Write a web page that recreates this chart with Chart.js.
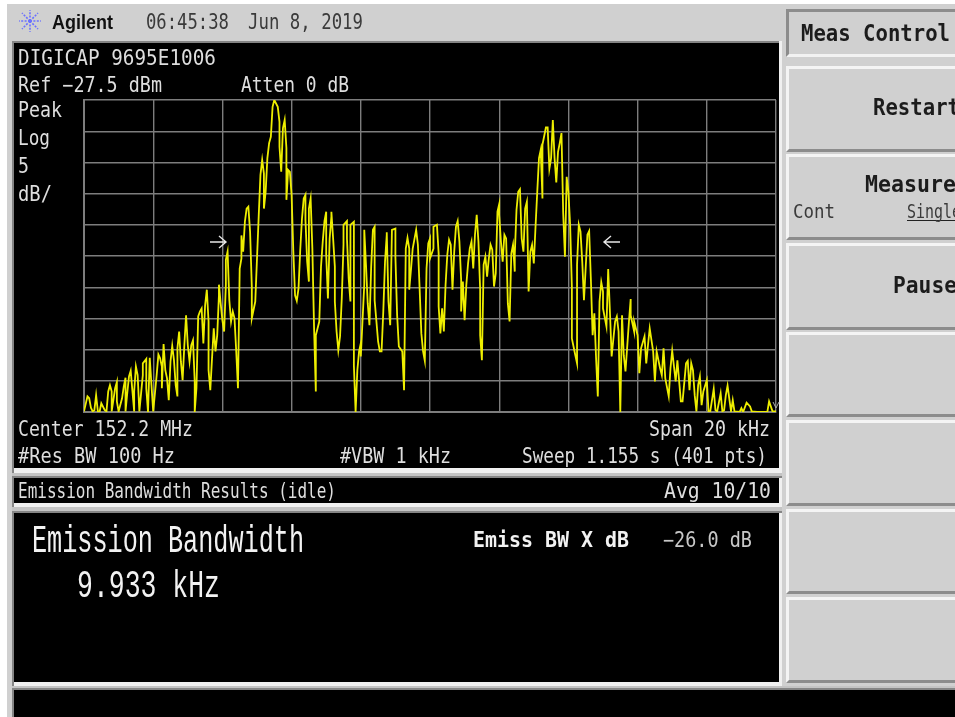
<!DOCTYPE html>
<html>
<head>
<meta charset="utf-8">
<title>Emission Bandwidth</title>
<script src="https://cdn.jsdelivr.net/npm/chart.js@4/dist/chart.umd.min.js"></script>
<style>
html,body{margin:0;padding:0;background:#d0d0d0;overflow:hidden}
#page{position:relative;width:955px;height:717px;overflow:hidden;background:#d0d0d0}
.b{position:absolute}
.k{position:absolute;left:786px;width:169px;box-sizing:border-box;background:#d0d0d0;border-top:3px solid #f4f4f4;border-left:3px solid #f4f4f4;border-bottom:3px solid #8c8c8c}
#chart,#labels{position:absolute;left:0;top:0}
</style>
</head>
<body>
<div id="page">
<div class="b" style="left:0;top:0;width:955px;height:4px;background:#fff"></div>
<div class="b" style="left:0;top:0;width:7px;height:717px;background:#fff"></div>
<!-- panel frames -->
<div class="b" style="left:12px;top:41px;width:770px;height:645px;background:#f0f0f0"></div>
<div class="b" style="left:12px;top:41px;width:767px;height:2px;background:#858585"></div>
<div class="b" style="left:12px;top:41px;width:2px;height:676px;background:#858585"></div>
<div class="b" style="left:14px;top:43px;width:765px;height:425px;background:#000"></div>
<div class="b" style="left:12px;top:473px;width:770px;height:3px;background:#c4c4c4"></div>
<div class="b" style="left:12px;top:476px;width:770px;height:2px;background:#858585"></div>
<div class="b" style="left:14px;top:478px;width:765px;height:25px;background:#000"></div>
<div class="b" style="left:12px;top:507px;width:770px;height:4px;background:#c4c4c4"></div>
<div class="b" style="left:12px;top:511px;width:770px;height:2px;background:#858585"></div>
<div class="b" style="left:14px;top:513px;width:765px;height:169px;background:#000"></div>
<div class="b" style="left:12px;top:686px;width:943px;height:2px;background:#c4c4c4"></div>
<div class="b" style="left:12px;top:688px;width:943px;height:2px;background:#858585"></div>
<div class="b" style="left:14px;top:690px;width:941px;height:27px;background:#000"></div>
<!-- soft keys -->
<div class="b" style="left:786px;top:9px;width:169px;height:48px;box-sizing:border-box;background:#d0d0d0;border-top:3px solid #8c8c8c;border-left:3px solid #8c8c8c;border-bottom:3px solid #f2f2f2"></div>
<div class="k" style="top:66px;height:86px"></div>
<div class="k" style="top:154px;height:86px"></div>
<div class="k" style="top:243px;height:87px"></div>
<div class="k" style="top:332px;height:85px"></div>
<div class="k" style="top:420px;height:86px"></div>
<div class="k" style="top:509px;height:85px"></div>
<div class="k" style="top:597px;height:86px"></div>
<canvas id="chart" width="955" height="717"></canvas>
<svg id="labels" width="955" height="717" xmlns="http://www.w3.org/2000/svg">
  <g stroke="#6a70ff" stroke-width="1.6" fill="none" stroke-dasharray="2 1.4">
    <path d="M30 21V10M30 21V32M30 21H19M30 21H41M30 21L22 13M30 21L38 13M30 21L22 29M30 21L38 29"/>
  </g>
  <path d="M907 220.5H955" stroke="#222" stroke-width="1.2"/>
  <path d="M773 402L776 408L779 402" stroke="#aaa" stroke-width="1" fill="none"/>
  <path d="M210 242H226M219 236L226 242L219 248" stroke="#e6e6e6" stroke-width="1.4" fill="none"/>
  <path d="M604 242H620M611 236L604 242L611 248" stroke="#e6e6e6" stroke-width="1.4" fill="none"/>
</svg>
</div>
<script>
// Trace: sweep point (0..400 of 401 pts) and level in dBm
const sweepPoints = [
0,2,3,4,5,6,7,8,9,10,12,13,14,15,16,16,18,19,19,20,22,23,24,24,25,26,27,28,29,29,30,31,32,34,34,36,36,37,38,39,40,42,43,44,45,45,46,47,48,49,
50,51,52,53,54,54,55,56,57,58,59,60,61,62,63,64,64,65,66,67,68,69,70,71,72,72,73,74,75,76,77,78,78,79,80,81,82,82,83,84,85,86,87,88,89,90,91,91,92,93,
94,95,96,97,97,99,100,101,102,103,104,104,105,106,107,108,109,110,112,113,113,114,115,116,117,117,118,119,120,121,122,123,124,125,126,127,128,128,129,130,130,131,132,133,134,134,136,
137,138,139,140,140,141,142,143,143,144,145,145,146,147,148,149,150,150,152,152,153,154,154,156,156,157,158,159,160,160,162,162,163,164,165,166,167,168,168,170,171,172,173,174,175,175,176,177,178,180,
180,181,182,184,185,186,187,188,188,189,190,192,193,194,195,196,197,198,199,200,200,202,202,204,205,205,206,207,208,209,210,211,212,213,214,215,216,217,218,218,219,220,221,222,223,224,225,226,227,228,
229,229,230,231,232,233,234,235,236,237,238,239,240,240,241,242,243,244,245,246,247,248,249,249,250,251,252,253,254,255,256,257,258,259,260,261,262,263,
264,265,265,267,268,269,270,271,272,273,274,275,276,277,278,279,280,281,282,282,284,285,285,286,287,288,289,291,292,293,294,295,296,297,298,299,300,300,302,303,304,305,307,308,309,310,
311,312,313,315,316,316,318,318,320,321,322,324,325,326,327,329,330,331,333,334,335,336,338,339,340,342,343,345,346,348,349,350,351,352,353,354,355,356,357,358,360,361,362,364,365,366,368,369,370,371,372,374,375,376,379,380,381,383,385,386,389,395,396,398,400
];
const traceLevels = [
-77.4,-75.0,-75.3,-76.8,-77.4,-77.2,-74.8,-77.4,-77.5,-76.1,-77.2,-77.4,-74.2,-73.2,-74.2,-77.4,-73.7,-72.7,-75.8,-77.4,-75.3,-73.4,-72.0,-77.4,-74.5,-71.8,-70.9,-74.2,-77.4,-74.2,-70.2,-71.6,-77.4,-71.6,-69.7,-69.0,-73.7,-77.5,-68.8,-73.2,-77.4,-71.6,-68.3,-68.9,-70.2,-73.7,-66.6,-70.8,-72.1,-75.6,
-69.4,-66.9,-69.2,-73.2,-75.0,-67.3,-64.6,-69.4,-72.4,-66.8,-62.0,-66.8,-69.4,-66.8,-66.0,-72.6,-77.5,-73.7,-62.2,-61.4,-60.9,-66.5,-60.4,-57.9,-63.0,-70.8,-74.0,-68.9,-64.1,-67.8,-65.2,-58.8,-57.1,-60.1,-62.8,-64.6,-57.1,-53.1,-51.8,-59.6,-63.0,-61.4,-62.5,-67.8,-73.7,-54.5,-52.9,-49.2,-51.8,-47.0,
-44.9,-44.6,-48.6,-57.4,-62.5,-59.8,-52.9,-46.0,-39.5,-37.1,-39.3,-44.9,-42.2,-36.8,-34.4,-33.4,-28.6,-27.5,-28.6,-31.0,-35.0,-39.0,-32.0,-30.7,-35.2,-43.5,-38.7,-39.0,-42.7,-51.8,-58.8,-59.7,-57.7,-51.5,-46.5,-43.3,-42.7,-46.7,-53.4,-56.6,-44.9,-43.3,-51.3,-64.1,-74.2,-65.2,-63.0,
-54.2,-50.2,-46.9,-45.4,-52.3,-59.3,-49.7,-46.2,-45.4,-49.7,-54.2,-59.8,-64.6,-67.6,-65.4,-59.3,-50.7,-47.5,-46.9,-49.7,-56.1,-59.8,-47.5,-47.0,-70.0,-77.5,-70.8,-67.8,-66.5,-68.6,-57.1,-48.3,-53.9,-60.1,-63.6,-54.2,-48.3,-47.8,-59.6,-66.2,-67.8,-67.8,-61.4,-53.4,-49.1,-48.7,-59.8,-63.6,-48.3,-48.1,
-52.6,-62.0,-67.0,-67.8,-74.0,-51.3,-49.6,-51.3,-57.9,-54.7,-51.3,-48.3,-50.7,-57.7,-64.9,-67.8,-69.3,-54.5,-50.5,-49.7,-52.9,-51.3,-47.8,-47.5,-52.1,-60.6,-64.9,-60.9,-64.6,-57.1,-52.3,-49.9,-50.7,-57.9,-51.8,-47.8,-46.9,-50.2,-56.3,-61.4,-56.6,-62.8,-57.1,-53.7,-51.3,-50.2,-54.5,-49.1,-45.9,-50.2,
-57.9,-65.2,-69.2,-53.9,-52.6,-55.8,-52.9,-50.7,-51.5,-57.4,-55.3,-45.4,-44.2,-45.9,-50.2,-53.4,-49.1,-49.7,-60.1,-63.0,-52.1,-50.7,-55.0,-52.3,-45.1,-42.2,-41.8,-49.7,-51.8,-44.9,-43.8,-58.2,-51.8,-50.7,-53.7,-47.8,-42.2,-36.8,
-35.5,-43.3,-34.7,-31.9,-31.9,-38.5,-36.8,-30.7,-36.8,-40.7,-35.8,-34.4,-32.8,-45.7,-52.6,-39.8,-42.2,-47.5,-57.4,-65.7,-68.4,-69.7,-53.9,-47.5,-48.6,-53.4,-59.6,-49.1,-48.5,-56.3,-65.2,-61.7,-68.9,-75.0,-59.8,-56.7,-58.2,-60.9,-63.8,-54.6,-61.4,-68.6,-63.0,-62.2,-64.6,-77.5,
-62.0,-68.4,-71.0,-63.0,-59.4,-62.0,-64.6,-63.0,-65.2,-71.3,-67.3,-65.4,-69.7,-66.8,-64.1,-67.8,-72.6,-67.8,-70.5,-71.6,-67.3,-72.1,-75.0,-70.5,-67.7,-72.6,-69.2,-75.8,-75.8,-69.7,-69.3,-74.0,-69.7,-70.8,-74.8,-77.4,-73.2,-71.8,-76.4,-74.2,-72.4,-77.4,-77.4,-73.8,-77.2,-77.4,-74.5,-77.4,-77.2,-74.8,-73.3,-77.4,-75.6,-77.4,-77.5,-76.9,-77.5,-76.0,-76.6,-77.4,-77.5,-77.5,-75.8,-77.4,-77.4
];
const refLevel = -27.5, dbPerDiv = 5, divisions = 10, sweepMax = 400;

// [text, x0, x1, capTop, baseline, colour, family, weight]
const mono = '"DejaVu Sans Mono"', lib = '"Liberation Mono"', ink = '#1c1c1c', w = '#dedede';
const textRows = [
['Agilent',52,113,14,29,'#111','"Liberation Sans"','bold'],
['06:45:38',146,229,14,29,'#3a3a3a',mono,'normal'],
['Jun 8, 2019',248,363,14,29,'#3a3a3a',mono,'normal'],
['DIGICAP 9695E1006',18,216,49,65,w,mono,'normal'],
['Ref \u221227.5 dBm',18,162,77,92,w,mono,'normal'],
['Atten 0 dB',241,349,77,92,w,mono,'normal'],
['Peak',18,62,102,117,w,mono,'normal'],
['Log',18,50,130,145,w,mono,'normal'],
['5',18,29,158,173,w,mono,'normal'],
['dB/',18,52,186,201,w,mono,'normal'],
['Center 152.2 MHz',18,193,420,436,w,mono,'normal'],
['#Res BW 100 Hz',18,175,447,463,w,mono,'normal'],
['#VBW 1 kHz',340,451,447,463,w,mono,'normal'],
['Span 20 kHz',649,770,420,436,w,mono,'normal'],
['Sweep 1.155 s (401 pts)',522,767,447,463,w,mono,'normal'],
['Emission Bandwidth Results (idle)',18,336,482,498,w,mono,'normal'],
['Avg 10/10',664,771,482,498,w,mono,'normal'],
['Emission Bandwidth',32,304,527,552,'#f2f2f2',lib,'normal'],
['9.933 kHz',77,220,571,597,'#f2f2f2',lib,'normal'],
['Emiss BW X dB',473,629,532,547,'#f2f2f2',mono,'bold'],
['\u221226.0 dB',663,752,532,547,'#c8c8c8',mono,'normal'],
['Meas Control',801,950,24,41,ink,mono,'bold'],
['Restart',873,960,98,115,ink,mono,'bold'],
['Measure',865,956,175,192,ink,mono,'bold'],
['Cont',793,835,204,218,'#3a3a3a',mono,'normal'],
['Single',907,961,204,218,'#3a3a3a',mono,'normal'],
['Pause',893,957,276,293,ink,mono,'bold']
];

const svg = document.getElementById('labels');
const capRatio = {'"Liberation Mono"':0.66,'"DejaVu Sans Mono"':0.729,'"Liberation Sans"':0.72};
textRows.forEach(r=>{
  const t = document.createElementNS('http://www.w3.org/2000/svg','text');
  t.textContent = r[0];
  t.setAttribute('x',r[1]);
  t.setAttribute('y',r[4]);
  t.setAttribute('textLength',r[2]-r[1]);
  t.setAttribute('lengthAdjust','spacingAndGlyphs');
  t.setAttribute('font-size',((r[4]-r[3])/capRatio[r[6]]).toFixed(1));
  t.setAttribute('font-family',r[6].replace(/"/g,''));
  t.setAttribute('font-weight',r[7]);
  t.setAttribute('fill',r[5]);
  svg.appendChild(t);
});

new Chart(document.getElementById('chart'),{
  type:'line',
  data:{datasets:[{
    label:'Trace',
    data:sweepPoints.map((p,i)=>({x:p,y:traceLevels[i]})),
    borderColor:'#eeee00',
    borderWidth:1.8,
    pointRadius:0,
    tension:0,
    borderJoinStyle:'miter',
    fill:false
  }]},
  options:{
    responsive:false,
    animation:false,
    parsing:false,
    normalized:false,
    layout:{padding:{left:84,right:179,top:100,bottom:305}},
    plugins:{legend:{display:false},tooltip:{enabled:false},title:{display:false}},
    scales:{
      x:{type:'linear',min:0,max:sweepMax,
        ticks:{display:false,stepSize:sweepMax/divisions},
        grid:{color:'#7d7d7d',lineWidth:1.4,drawTicks:false},
        border:{color:'#7d7d7d',width:2}},
      y:{type:'linear',min:refLevel-dbPerDiv*divisions,max:refLevel,
        ticks:{display:false,stepSize:dbPerDiv},
        grid:{color:'#7d7d7d',lineWidth:1.4,drawTicks:false},
        border:{color:'#7d7d7d',width:2}}
    }
  }
});
</script>
</body>
</html>
